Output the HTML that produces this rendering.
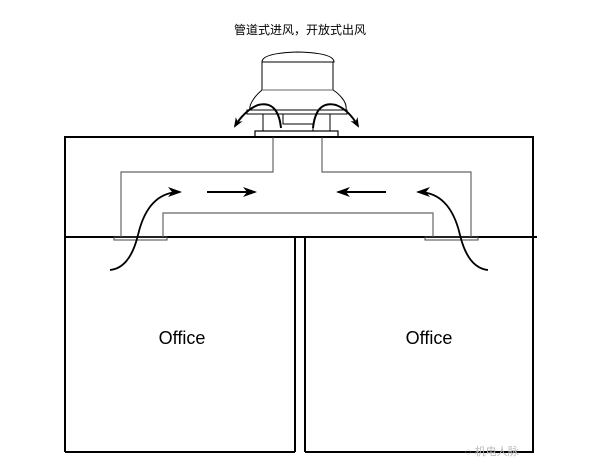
<!DOCTYPE html>
<html><head><style>body{margin:0;background:#fff}</style></head><body>
<svg width="609" height="461" xmlns="http://www.w3.org/2000/svg">
<defs><marker id="a" markerWidth="10" markerHeight="8" refX="8" refY="4" orient="auto" markerUnits="userSpaceOnUse"><path d="M0,0 L10,4 L0,8 L3,4z" fill="#000"/></marker>
<marker id="b" markerWidth="14" markerHeight="10" refX="12" refY="5" orient="auto" markerUnits="userSpaceOnUse"><path d="M0,0 L14,5 L0,10 L4,5z" fill="#000"/></marker></defs>
<text x="300" y="34" font-family="Liberation Sans, Noto Sans CJK SC, sans-serif" font-size="12" text-anchor="middle">管道式进风，开放式出风</text>
<g fill="none" stroke="#000">
<path d="M65,452 V137 H533 V237" stroke-width="2"/>
<path d="M65,237 H537" stroke-width="2"/>
<path d="M65,452 H295 M305,452 H533 V237" stroke-width="2"/>
<path d="M295,237 V452 M305,237 V452" stroke-width="2"/>
<path d="M121,237 V172 H273 V137 M322,137 V172 H471 V237" stroke="#666" stroke-width="1.2"/>
<path d="M163,237 V213 H433 V237" stroke="#666" stroke-width="1.2"/>
<rect x="114" y="237" width="53" height="3" stroke="#444"/>
<rect x="425" y="237" width="53" height="3" stroke="#444"/>
<rect x="255" y="131" width="83" height="6" stroke-width="1.2"/>
<path d="M262,62 Q262,53 298,52 Q334,53 334,62 Z" stroke-width="1"/>
<path d="M262,62 V90 Q256,95 253,100 Q249,106 250,110 H346 Q347,104 342,98 Q338,93 333,90 V62" stroke-width="1"/>
<rect x="247" y="110" width="100" height="4" stroke-width="1"/>
<path d="M262,90 H333" stroke="#666"/>
<path d="M263,114 V131 M330,114 V131 M283,114 V124 H313 V131" stroke-width="1"/>
<path d="M281,128 Q278,100 258,105 Q245,110 235,126" stroke-width="2" marker-end="url(#a)"/>
<path d="M313,128 Q316,100 336,105 Q349,110 358,126" stroke-width="2" marker-end="url(#a)"/>
<path d="M110,270 Q130,268 138,235 Q148,192 180,192" stroke-width="1.8" marker-end="url(#b)"/>
<path d="M488,270 Q468,268 460,235 Q450,192 418,192" stroke-width="1.8" marker-end="url(#b)"/>
<path d="M207,192 H255" stroke-width="2" marker-end="url(#b)"/>
<path d="M386,192 H338" stroke-width="2" marker-end="url(#b)"/>
</g>
<text x="182" y="344" font-family="Liberation Sans, sans-serif" font-size="18" text-anchor="middle">Office</text>
<text x="429" y="344" font-family="Liberation Sans, sans-serif" font-size="18" text-anchor="middle">Office</text>
<text x="465" y="455" font-family="Liberation Sans, Noto Sans CJK SC, sans-serif" font-size="11" fill="#bbb">◌ 机电人脉</text>
</svg>
</body></html>
